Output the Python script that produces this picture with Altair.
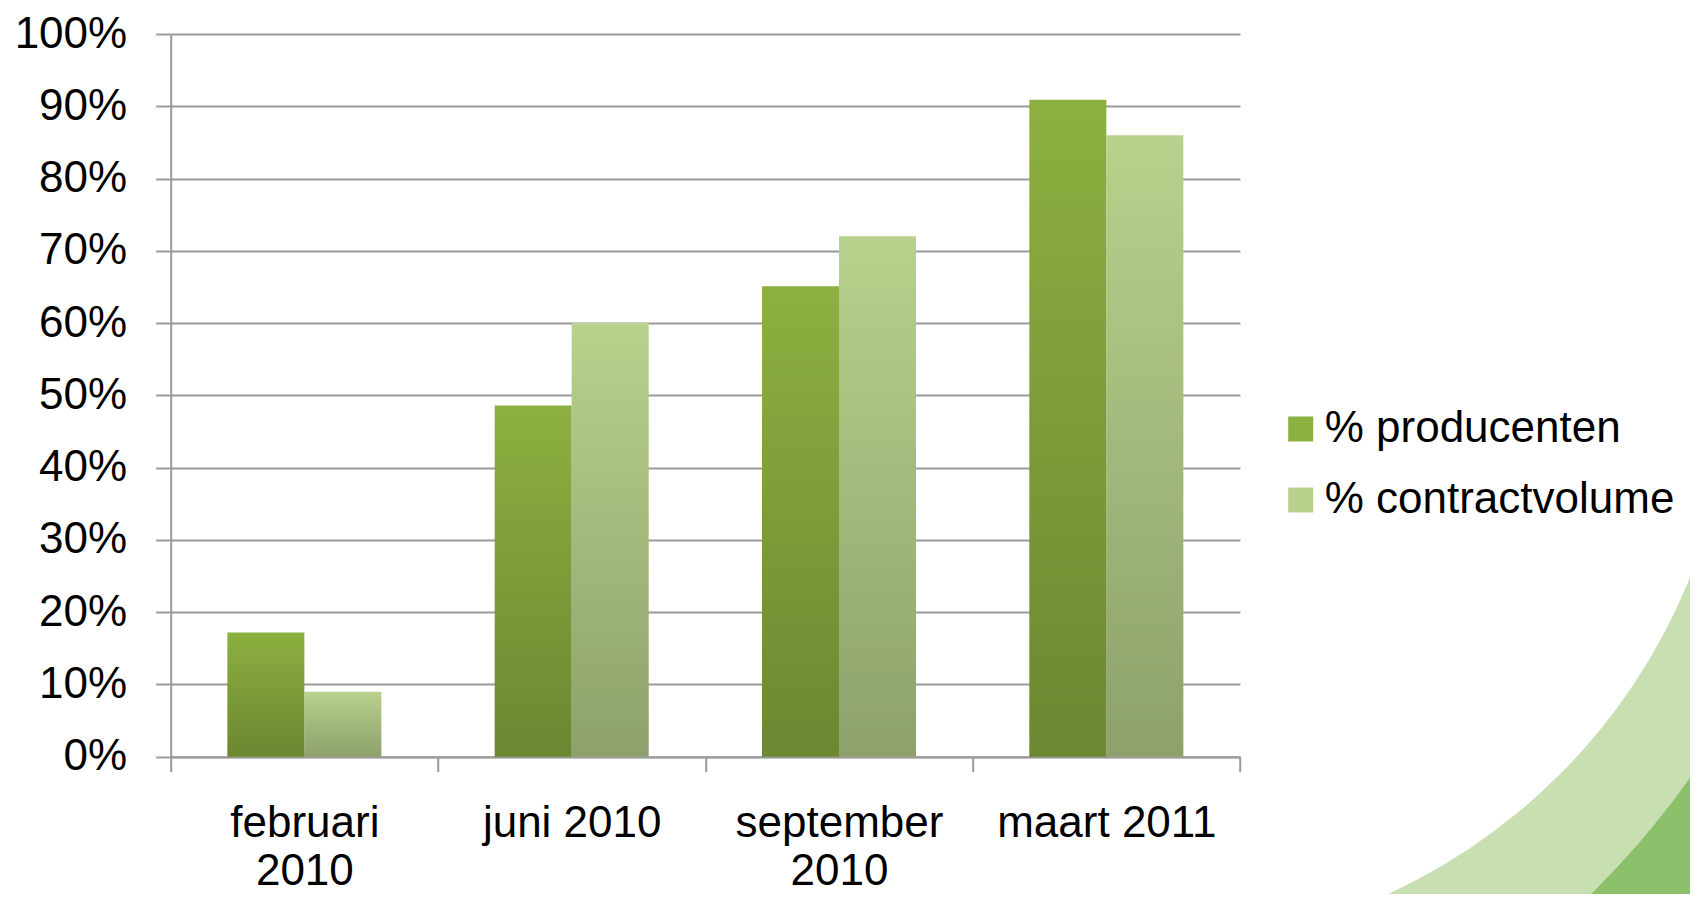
import math
import altair as alt
import pandas as pd

# ---- data ----
categories = ["februari 2010", "juni 2010", "september 2010", "maart 2011"]
series_names = ["% producenten", "% contractvolume"]
producenten = [0.172, 0.486, 0.651, 0.909]
contractvolume = [0.090, 0.600, 0.720, 0.860]
y_ticks = [0.0, 0.1, 0.2, 0.3, 0.4, 0.5, 0.6, 0.7, 0.8, 0.9, 1.0]
wrapped_labels = ["februari 2010", "september 2010"]
series_colors = ["#8CB040", "#B8D18C"]

rows = []
for c, p, v in zip(categories, producenten, contractvolume):
    rows.append({"periode": c, "reeks": series_names[0], "waarde": p})
    rows.append({"periode": c, "reeks": series_names[1], "waarde": v})
df = pd.DataFrame(rows)

FONT = "Liberation Sans"
GRAY = "#9A9A9A"
PAD_L, PAD_T = 162.7, 26.0
W, H = 1069.3, 722.7
TOTAL_W, TOTAL_H = 1682, 886

wrap_list = "[" + ",".join("'" + s + "'" for s in wrapped_labels) + "]"
label_expr = f"indexof({wrap_list}, datum.value) >= 0 ? split(datum.value, ' ') : datum.value"

x_enc = alt.X(
    "periode:N",
    sort=categories,
    scale=alt.Scale(paddingInner=0, paddingOuter=0),
    axis=alt.Axis(
        title=None, labelAngle=0, tickBand="extent", tickSize=15, tickColor=GRAY,
        tickWidth=2, domainColor=GRAY, domainWidth=2, labelFont=FONT,
        labelFontSize=44, labelColor="black", labelPadding=30, labelLineHeight=48,
        labelExpr=label_expr, labelLimit=500, grid=False,
    ),
)
y_enc = alt.Y(
    "waarde:Q",
    scale=alt.Scale(domain=[0, 1], nice=False),
    axis=alt.Axis(
        title=None, values=y_ticks, format=".0%", tickSize=15, tickColor=GRAY,
        tickWidth=2, domainColor=GRAY, domainWidth=2, gridColor=GRAY, gridWidth=2,
        labelFont=FONT, labelFontSize=44, labelColor="black", labelPadding=29,
        labelLimit=300,
    ),
)
xoff = alt.XOffset("reeks:N", sort=series_names,
                   scale=alt.Scale(paddingInner=0, paddingOuter=0.736))

bars = alt.Chart(df).mark_bar().encode(
    x=x_enc,
    xOffset=xoff,
    y=y_enc,
    color=alt.Color(
        "reeks:N", sort=series_names,
        scale=alt.Scale(domain=series_names, range=series_colors),
        legend=alt.Legend(
            title=None, orient="none", legendX=1108, legendY=373,
            symbolType="square", symbolSize=625, symbolStrokeWidth=0,
            labelFont=FONT, labelFontSize=44, labelColor="black",
            labelOffset=2, rowPadding=27, labelLimit=600, padding=0,
        ),
    ),
)

shade = alt.LinearGradient(
    gradient="linear",
    stops=[alt.GradientStop(color="rgba(0,0,0,0)", offset=0),
           alt.GradientStop(color="rgba(0,0,0,0.23)", offset=1)],
    x1=0, x2=0, y1=0, y2=1,
)
overlay = alt.Chart(df).mark_bar(color=shade).encode(
    x=alt.X("periode:N", sort=categories),
    xOffset=alt.XOffset("reeks:N", sort=series_names),
    y=alt.Y("waarde:Q"),
)

# decorative slide swooshes (bottom right), positioned in plot pixels
deco = alt.Data(values=[{"k": 1}])
light_arc = alt.Chart(deco).mark_arc(
    color="#C8DFB2", radius=1500, radius2=592, theta=math.pi / 2, theta2=math.pi
).encode(x=alt.value(970.3), y=alt.value(322.0))
dark_arc = alt.Chart(deco).mark_arc(
    color="#8DC06B", radius=1700, radius2=838, theta=math.pi / 2, theta2=math.pi
).encode(x=alt.value(834.3), y=alt.value(261.0))

chart = alt.layer(light_arc, dark_arc, bars, overlay).properties(
    width=W,
    height=H,
    autosize=alt.AutoSizeParams(type="none"),
    padding={"left": PAD_L, "top": PAD_T,
             "right": TOTAL_W - PAD_L - W, "bottom": TOTAL_H - PAD_T - H},
).configure(font=FONT).configure_view(strokeOpacity=0)

chart.save("out.html", embed_options={"renderer": "svg", "actions": False})
